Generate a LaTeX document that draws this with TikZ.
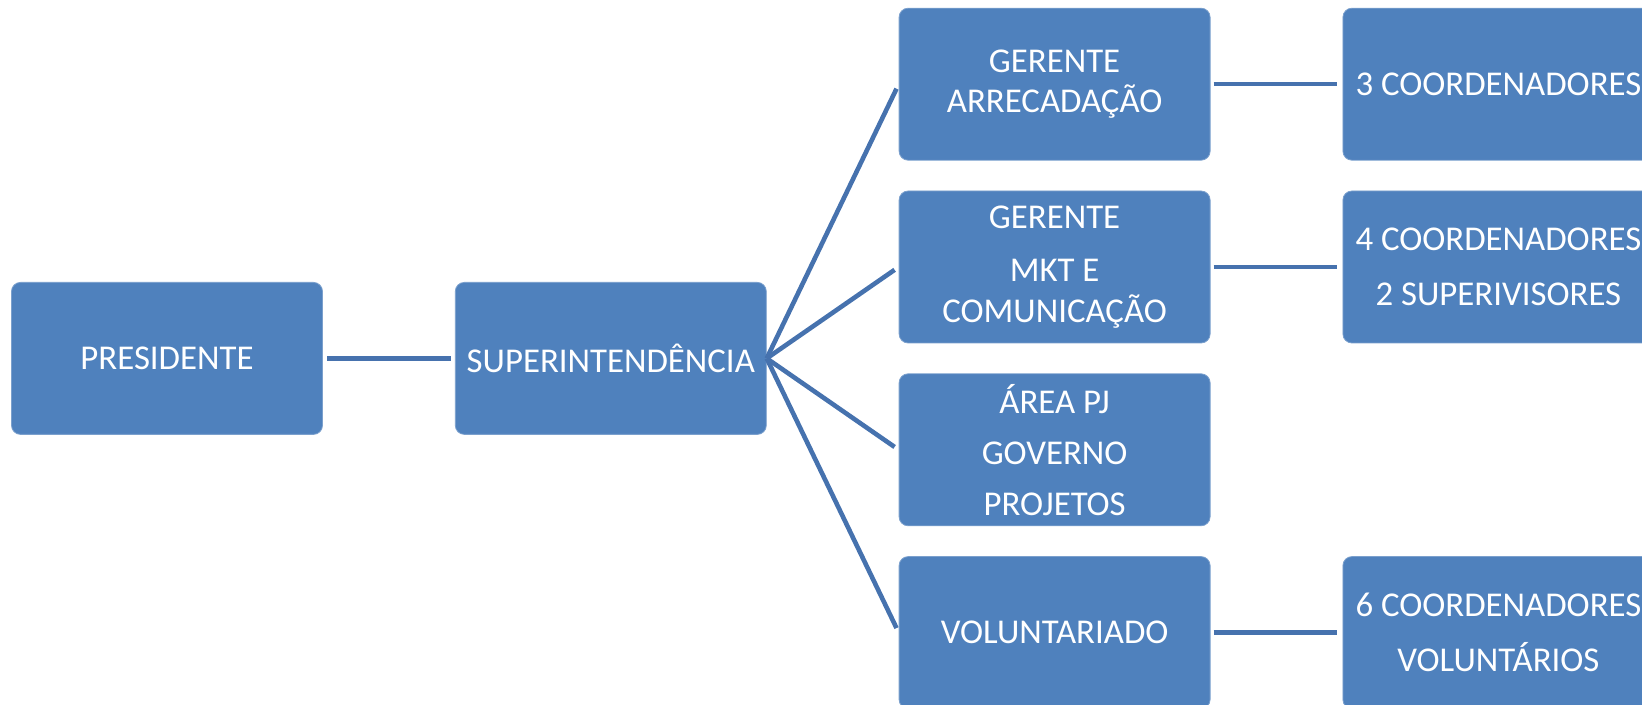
\documentclass[tikz,border=0pt]{standalone}
\usepackage{fontspec}
\setmainfont{Carlito}
\usetikzlibrary{positioning,calc}
\definecolor{boxblue}{HTML}{4F81BD}
\definecolor{lineblue}{HTML}{4672AE}
\tikzset{
  box/.style = {fill=boxblue, draw=boxblue!75!white, line width=0.4pt,
                rounded corners=4.5pt, align=center, text=white, inner sep=0pt,
                minimum width=155.5pt, minimum height=76pt,
                font=\fontsize{17.4}{20.4}\selectfont},
  ln/.style  = {draw=lineblue, line width=2.3pt},
}

\begin{document}
\begin{tikzpicture}[node distance=15pt and 66pt]
  % page frame (PRESIDENTE sits at the origin)
  \useasboundingbox (-83.5pt,179.2pt) rectangle ++(821pt,-352.5pt);
  \node[box] (pres) {PRESIDENTE};
  \node[box, right=of pres] (sup) {SUPERINTENDÊNCIA};
  \node[box, above right=7.5pt and 66pt of sup.east] (gmkt) {GERENTE\\[6.5pt]MKT E\\COMUNICAÇÃO};
  \node[box, above=of gmkt] (garr) {GERENTE\\ARRECADAÇÃO};
  \node[box, below right=7.5pt and 66pt of sup.east] (pj) {ÁREA PJ\\[5pt]GOVERNO\\[5pt]PROJETOS};
  \node[box, below=of pj] (vol) {VOLUNTARIADO};
  \node[box, right=of garr] (coordarr) {3 COORDENADORES};
  \node[box, right=of gmkt] (coordmkt) {4 COORDENADORES\\[7pt]2 SUPERIVISORES};
  \node[box, right=of vol] (coordvol) {6 COORDENADORES\\[7pt]VOLUNTÁRIOS};
  \draw[ln, shorten <=2pt, shorten >=2pt] (pres) -- (sup);
  \foreach \c in {garr,gmkt,pj,vol}
    \draw[ln, shorten >=2.5pt] (sup.east) -- (\c.west);
  \draw[ln, shorten <=1.5pt, shorten >=2.75pt] (garr) -- (coordarr);
  \draw[ln, shorten <=1.5pt, shorten >=2.75pt] (gmkt) -- (coordmkt);
  \draw[ln, shorten <=1.5pt, shorten >=2.75pt] (vol) -- (coordvol);
\end{tikzpicture}
\end{document}
